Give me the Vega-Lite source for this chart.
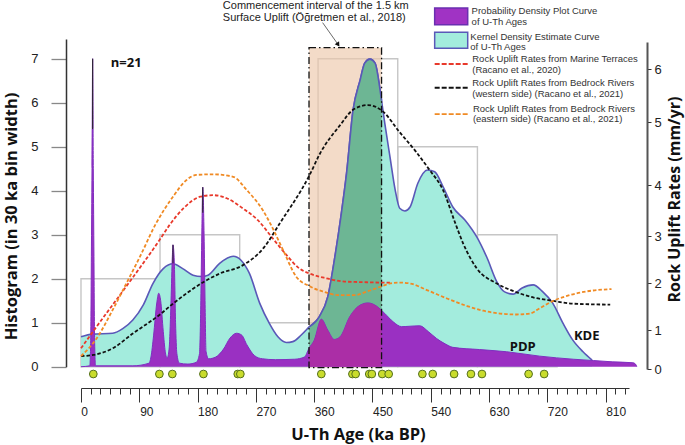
{
  "$schema": "https://vega.github.io/schema/vega-lite/v6.json",
  "width": 581,
  "height": 330,
  "autosize": "none",
  "padding": {"left": 66, "top": 39, "right": 38, "bottom": 76},
  "background": "white",
  "config": {"view": {"stroke": null}, "text": {"font": "Liberation Sans"}},
  "datasets": {
    "hist": [
      {"start": 0, "end": 122, "count": 2},
      {"start": 122, "end": 245, "count": 3},
      {"start": 245, "end": 366, "count": 1},
      {"start": 366, "end": 489, "count": 7},
      {"start": 489, "end": 612, "count": 5},
      {"start": 612, "end": 735, "count": 3}
    ],
    "interval": [{"start": 352, "end": 464, "top": 7.25, "bottom": -0.02}],
    "kde": [
      {"age": 0, "h": 0.68}, {"age": 18, "h": 0.74}, {"age": 49, "h": 0.76}, {"age": 65, "h": 0.87},
      {"age": 80, "h": 1.06}, {"age": 96, "h": 1.4}, {"age": 111, "h": 1.89}, {"age": 127, "h": 2.23},
      {"age": 142, "h": 2.34}, {"age": 157, "h": 2.23}, {"age": 173, "h": 2.08}, {"age": 186, "h": 2.05},
      {"age": 196, "h": 2.08}, {"age": 214, "h": 2.35}, {"age": 235, "h": 2.51}, {"age": 247, "h": 2.42},
      {"age": 260, "h": 2.12}, {"age": 276, "h": 1.44}, {"age": 291, "h": 0.98}, {"age": 304, "h": 0.68},
      {"age": 317, "h": 0.55}, {"age": 327, "h": 0.57}, {"age": 340, "h": 0.72}, {"age": 352, "h": 0.9},
      {"age": 368, "h": 1.14}, {"age": 381, "h": 1.59}, {"age": 392, "h": 2.5}, {"age": 402, "h": 3.49},
      {"age": 410, "h": 4.4}, {"age": 420, "h": 5.83}, {"age": 431, "h": 6.52}, {"age": 438, "h": 6.9},
      {"age": 446, "h": 6.99}, {"age": 454, "h": 6.9}, {"age": 461, "h": 6.36}, {"age": 464, "h": 6.05},
      {"age": 469, "h": 5.53}, {"age": 477, "h": 4.77}, {"age": 485, "h": 4.02}, {"age": 492, "h": 3.6},
      {"age": 500, "h": 3.54}, {"age": 508, "h": 3.63}, {"age": 520, "h": 4.17}, {"age": 535, "h": 4.47},
      {"age": 546, "h": 4.43}, {"age": 559, "h": 4.09}, {"age": 574, "h": 3.63}, {"age": 593, "h": 3.33},
      {"age": 611, "h": 2.95}, {"age": 627, "h": 2.47}, {"age": 642, "h": 1.93}, {"age": 654, "h": 1.7},
      {"age": 667, "h": 1.65}, {"age": 681, "h": 1.79}, {"age": 698, "h": 1.86}, {"age": 713, "h": 1.7},
      {"age": 728, "h": 1.45}, {"age": 744, "h": 0.99}, {"age": 759, "h": 0.61}, {"age": 775, "h": 0.34},
      {"age": 789, "h": 0.15}
    ],
    "pdp": [
      {"age": 0, "h": 0}, {"age": 13.5, "h": 0.02}, {"age": 15, "h": 0.6}, {"age": 16, "h": 2.5},
      {"age": 17, "h": 4.5}, {"age": 18, "h": 7}, {"age": 19, "h": 4.5}, {"age": 20, "h": 2.5},
      {"age": 21, "h": 0.6}, {"age": 22.5, "h": 0.02}, {"age": 80, "h": 0.02}, {"age": 105, "h": 0.08},
      {"age": 108, "h": 0.22}, {"age": 112, "h": 0.7}, {"age": 117, "h": 1.45}, {"age": 120, "h": 1.67},
      {"age": 123, "h": 1.5}, {"age": 127, "h": 0.8}, {"age": 130, "h": 0.35}, {"age": 133, "h": 0.2},
      {"age": 136, "h": 0.4}, {"age": 139, "h": 1.5}, {"age": 141, "h": 2.5}, {"age": 142, "h": 2.77},
      {"age": 144, "h": 2.4}, {"age": 146, "h": 1}, {"age": 148, "h": 0.3}, {"age": 152, "h": 0.08},
      {"age": 165, "h": 0.06}, {"age": 178, "h": 0.1}, {"age": 183, "h": 0.3}, {"age": 185, "h": 1.5},
      {"age": 186.5, "h": 3}, {"age": 188, "h": 4.08}, {"age": 190, "h": 3}, {"age": 191.5, "h": 1.5},
      {"age": 193, "h": 0.35}, {"age": 197, "h": 0.18}, {"age": 208, "h": 0.22}, {"age": 220, "h": 0.4},
      {"age": 230, "h": 0.65}, {"age": 240, "h": 0.76}, {"age": 248, "h": 0.72}, {"age": 256, "h": 0.5},
      {"age": 268, "h": 0.25}, {"age": 280, "h": 0.18}, {"age": 300, "h": 0.16}, {"age": 330, "h": 0.17},
      {"age": 345, "h": 0.22}, {"age": 352, "h": 0.42}, {"age": 360, "h": 0.6}, {"age": 371, "h": 1.08},
      {"age": 381, "h": 0.83}, {"age": 391, "h": 0.62}, {"age": 400, "h": 0.68}, {"age": 415, "h": 1.14},
      {"age": 431, "h": 1.4}, {"age": 443, "h": 1.45}, {"age": 456, "h": 1.38}, {"age": 464, "h": 1.28},
      {"age": 469, "h": 1.21}, {"age": 482, "h": 1.02}, {"age": 495, "h": 0.91}, {"age": 508, "h": 0.92},
      {"age": 523, "h": 0.93}, {"age": 536, "h": 0.8}, {"age": 549, "h": 0.64}, {"age": 562, "h": 0.52},
      {"age": 574, "h": 0.44}, {"age": 615, "h": 0.39}, {"age": 657, "h": 0.34}, {"age": 708, "h": 0.24},
      {"age": 760, "h": 0.17}, {"age": 791, "h": 0.14}, {"age": 821, "h": 0.11}, {"age": 852, "h": 0.09},
      {"age": 856, "h": 0.06}, {"age": 858, "h": 0}
    ],
    "uplift": [
      {"series": "marine", "age": 0, "rate": 0.53}, {"series": "marine", "age": 24, "rate": 1.07},
      {"series": "marine", "age": 70, "rate": 1.93}, {"series": "marine", "age": 121, "rate": 2.91},
      {"series": "marine", "age": 137, "rate": 3.22}, {"series": "marine", "age": 158, "rate": 3.54},
      {"series": "marine", "age": 184, "rate": 3.77}, {"series": "marine", "age": 204, "rate": 3.8},
      {"series": "marine", "age": 225, "rate": 3.74}, {"series": "marine", "age": 250, "rate": 3.54},
      {"series": "marine", "age": 273, "rate": 3.31}, {"series": "marine", "age": 296, "rate": 2.95},
      {"series": "marine", "age": 317, "rate": 2.6},
      {"series": "marine", "age": 337, "rate": 2.31}, {"series": "marine", "age": 353, "rate": 2.2},
      {"series": "marine", "age": 379, "rate": 2.1}, {"series": "marine", "age": 407, "rate": 2.03},
      {"series": "marine", "age": 431, "rate": 2.02}, {"series": "marine", "age": 462, "rate": 2.01},
      {"series": "marine", "age": 477, "rate": 2.01},
      {"series": "west", "age": 0, "rate": 0.33}, {"series": "west", "age": 19, "rate": 0.36},
      {"series": "west", "age": 49, "rate": 0.53}, {"series": "west", "age": 80, "rate": 0.91},
      {"series": "west", "age": 121, "rate": 1.32}, {"series": "west", "age": 142, "rate": 1.56},
      {"series": "west", "age": 188, "rate": 2.01}, {"series": "west", "age": 214, "rate": 2.2},
      {"series": "west", "age": 250, "rate": 2.38}, {"series": "west", "age": 281, "rate": 2.73},
      {"series": "west", "age": 307, "rate": 3.25}, {"series": "west", "age": 353, "rate": 4.16},
      {"series": "west", "age": 369, "rate": 4.5}, {"series": "west", "age": 400, "rate": 4.95},
      {"series": "west", "age": 420, "rate": 5.23}, {"series": "west", "age": 443, "rate": 5.32},
      {"series": "west", "age": 466, "rate": 5.2}, {"series": "west", "age": 491, "rate": 4.85},
      {"series": "west", "age": 517, "rate": 4.53}, {"series": "west", "age": 538, "rate": 4.24},
      {"series": "west", "age": 559, "rate": 3.9}, {"series": "west", "age": 577, "rate": 3.28},
      {"series": "west", "age": 590, "rate": 2.84}, {"series": "west", "age": 611, "rate": 2.31},
      {"series": "west", "age": 642, "rate": 1.99}, {"series": "west", "age": 673, "rate": 1.8},
      {"series": "west", "age": 699, "rate": 1.69}, {"series": "west", "age": 729, "rate": 1.62},
      {"series": "west", "age": 760, "rate": 1.56}, {"series": "west", "age": 817, "rate": 1.54},
      {"series": "east", "age": 0, "rate": 0.33}, {"series": "east", "age": 24, "rate": 0.78},
      {"series": "east", "age": 49, "rate": 1.43}, {"series": "east", "age": 70, "rate": 1.99},
      {"series": "east", "age": 91, "rate": 2.56}, {"series": "east", "age": 116, "rate": 3.25},
      {"series": "east", "age": 142, "rate": 3.77}, {"series": "east", "age": 163, "rate": 4.08},
      {"series": "east", "age": 178, "rate": 4.16}, {"series": "east", "age": 204, "rate": 4.17},
      {"series": "east", "age": 235, "rate": 4.13}, {"series": "east", "age": 256, "rate": 3.9},
      {"series": "east", "age": 281, "rate": 3.5}, {"series": "east", "age": 294, "rate": 3.2},
      {"series": "east", "age": 312, "rate": 2.7}, {"series": "east", "age": 332, "rate": 2.14},
      {"series": "east", "age": 353, "rate": 1.93}, {"series": "east", "age": 373, "rate": 1.82},
      {"series": "east", "age": 400, "rate": 1.74}, {"series": "east", "age": 421, "rate": 1.74},
      {"series": "east", "age": 446, "rate": 1.84}, {"series": "east", "age": 464, "rate": 1.93},
      {"series": "east", "age": 477, "rate": 1.99}, {"series": "east", "age": 490, "rate": 2.01},
      {"series": "east", "age": 508, "rate": 1.99}, {"series": "east", "age": 534, "rate": 1.85},
      {"series": "east", "age": 565, "rate": 1.67}, {"series": "east", "age": 596, "rate": 1.51},
      {"series": "east", "age": 621, "rate": 1.41}, {"series": "east", "age": 647, "rate": 1.35},
      {"series": "east", "age": 673, "rate": 1.33}, {"series": "east", "age": 693, "rate": 1.35},
      {"series": "east", "age": 708, "rate": 1.46}, {"series": "east", "age": 729, "rate": 1.62},
      {"series": "east", "age": 749, "rate": 1.72}, {"series": "east", "age": 780, "rate": 1.82},
      {"series": "east", "age": 819, "rate": 1.87}
    ],
    "ages": [
      {"age": 19}, {"age": 121}, {"age": 141}, {"age": 189}, {"age": 242}, {"age": 246}, {"age": 371},
      {"age": 419}, {"age": 424}, {"age": 445}, {"age": 449}, {"age": 465}, {"age": 475}, {"age": 527},
      {"age": 543}, {"age": 576}, {"age": 602}, {"age": 619}, {"age": 691}, {"age": 715}
    ],
    "tips": [
      {"age": 18, "top": 7, "low": 5.4},
      {"age": 142, "top": 2.77, "low": 2.35},
      {"age": 188, "top": 4.08, "low": 3.5}
    ],
    "swatches": [
      {"x": 546, "x2": 597, "y": 8.15, "y2": 7.77, "kind": "pdp"},
      {"x": 546, "x2": 597, "y": 7.6, "y2": 7.24, "kind": "kde"}
    ],
    "legendDashes": [
      {"series": "marine", "x": 546, "x2": 597, "y": 6.88},
      {"series": "west", "x": 546, "x2": 597, "y": 6.34},
      {"series": "east", "x": 546, "x2": 597, "y": 5.74}
    ],
    "legendText": [
      {"x": 603, "y": 8.08, "label": "Probability Density Plot Curve"},
      {"x": 603, "y": 7.84, "label": "of U-Th Ages"},
      {"x": 601, "y": 7.5, "label": "Kernel Density Estimate Curve"},
      {"x": 601, "y": 7.26, "label": "of U-Th Ages"},
      {"x": 604, "y": 6.99, "label": "Rock Uplift Rates from Marine Terraces"},
      {"x": 604, "y": 6.74, "label": "(Racano et al., 2020)"},
      {"x": 604, "y": 6.45, "label": "Rock Uplift Rates from Bedrock Rivers"},
      {"x": 604, "y": 6.2, "label": "(western side) (Racano et al., 2021)"},
      {"x": 605, "y": 5.86, "label": "Rock Uplift Rates from Bedrock Rivers"},
      {"x": 605, "y": 5.62, "label": "(eastern side) (Racano et al., 2021)"}
    ],
    "noteText": [
      {"x": 219, "y": 8.19, "label": "Commencement interval of the 1.5 km"},
      {"x": 219, "y": 7.92, "label": "Surface Uplift (Öğretmen et al., 2018)"}
    ],
    "boldText": [
      {"x": 46, "y": 6.9, "label": "n=21"},
      {"x": 662, "y": 0.45, "label": "PDP"},
      {"x": 761, "y": 0.7, "label": "KDE"}
    ],
    "arrow": [{"x": 373, "y": 7.82, "x2": 397, "y2": 7.32}]
  },
  "layer": [
    {
      "data": {"name": "hist"},
      "mark": {"type": "rect", "fill": "transparent", "stroke": "#c6c6c6", "strokeWidth": 1.4},
      "encoding": {
        "x": {
          "field": "start", "type": "quantitative", "title": "U-Th Age (ka BP)",
          "scale": {"domain": [0, 846], "range": [15, 563], "nice": false},
          "axis": {
            "offset": 19, "values": [0,15,30,45,60,75,90,105,120,135,150,165,180,195,210,225,240,255,270,285,300,315,330,345,360,375,390,405,420,435,450,465,480,495,510,525,540,555,570,585,600,615,630,645,660,675,690,705,720,735,750,765,780,795,810,825,840],
            "labelExpr": "datum.value % 90 === 0 ? datum.label : ''",
            "labelOverlap": false, "labelFlush": false, "labelAngle": 0, "labelFont": "Liberation Sans", "labelFontSize": 12, "labelColor": "#222", "labelPadding": 4,
            "labelOffset": {"condition": [{"test": "datum.value === 0", "value": 3}, {"test": "datum.value === 90", "value": 7}], "value": 10},
            "domainColor": "#333", "domainWidth": 1.2, "tickColor": "#333", "grid": false,
            "tickSize": {"condition": {"test": "datum.value % 90 === 0", "value": 14}, "value": 6},
            "titleFont": "Open Sans", "titleFontWeight": "bold", "titleFontSize": 16.5, "titleColor": "#111", "titleX": 292, "titleY": 38, "titleBaseline": "top"
          }
        },
        "x2": {"field": "end"},
        "y": {
          "field": "count", "type": "quantitative", "title": "Histogram (in 30 ka bin width)",
          "scale": {"domain": [0, 7.448], "range": [327.7, 0], "nice": false},
          "axis": {
            "values": [0,1,2,3,4,5,6,7], "tickSize": 15, "tickColor": "#888", "tickWidth": 1.3, "domainColor": "#333", "domainWidth": 1.5, "grid": false,
            "labelFont": "Liberation Sans", "labelFontSize": 13, "labelColor": "#222", "labelPadding": 13,
            "titleFont": "Open Sans", "titleFontWeight": "bold", "titleFontSize": 16.5, "titleColor": "#111", "titleX": -47, "titleY": 177
          }
        },
        "y2": {"datum": 0}
      }
    },
    {
      "data": {"name": "interval"},
      "mark": {"type": "rect", "fill": "#ecc8aa", "opacity": 0.65},
      "encoding": {
        "x": {"field": "start", "type": "quantitative", "axis": null},
        "x2": {"field": "end"},
        "y": {"field": "top", "type": "quantitative", "scale": {"domain": [0, 7.448], "range": [327.7, 0], "nice": false}, "axis": null},
        "y2": {"field": "bottom"}
      }
    },
    {
      "data": {"name": "kde"},
      "mark": {"type": "area", "interpolate": "monotone", "color": "#a3ecdd", "opacity": 1, "line": {"color": "#5a58b8", "strokeWidth": 1.6, "opacity": 1}},
      "encoding": {
        "x": {"field": "age", "type": "quantitative", "axis": null},
        "y": {"field": "h", "type": "quantitative", "scale": {"domain": [0, 7.448], "range": [327.7, 0], "nice": false}, "axis": null}
      }
    },
    {
      "data": {"name": "kde"},
      "transform": [{"filter": "datum.age >= 352 && datum.age <= 464"}],
      "mark": {"type": "area", "interpolate": "monotone", "color": "#6db694", "opacity": 1, "line": {"color": "#5a58b8", "strokeWidth": 1.6, "opacity": 1}},
      "encoding": {
        "x": {"field": "age", "type": "quantitative", "axis": null},
        "y": {"field": "h", "type": "quantitative", "scale": {"domain": [0, 7.448], "range": [327.7, 0], "nice": false}, "axis": null}
      }
    },
    {
      "data": {"name": "pdp"},
      "mark": {"type": "area", "interpolate": "monotone", "color": "#9a30c2", "opacity": 1, "line": {"color": "#7f2fc0", "strokeWidth": 1, "opacity": 1}},
      "encoding": {
        "x": {"field": "age", "type": "quantitative", "axis": null},
        "y": {"field": "h", "type": "quantitative", "scale": {"domain": [0, 7.448], "range": [327.7, 0], "nice": false}, "axis": null}
      }
    },
    {
      "data": {"name": "pdp"},
      "transform": [{"filter": "datum.age >= 352 && datum.age <= 464"}],
      "mark": {"type": "area", "interpolate": "monotone", "color": "#ab2ea6", "opacity": 1},
      "encoding": {
        "x": {"field": "age", "type": "quantitative", "axis": null},
        "y": {"field": "h", "type": "quantitative", "scale": {"domain": [0, 7.448], "range": [327.7, 0], "nice": false}, "axis": null}
      }
    },
    {
      "data": {"name": "tips"},
      "mark": {"type": "rule", "color": "#222", "strokeWidth": 1},
      "encoding": {
        "x": {"field": "age", "type": "quantitative", "axis": null},
        "y": {"field": "top", "type": "quantitative", "scale": {"domain": [0, 7.448], "range": [327.7, 0], "nice": false}, "axis": null},
        "y2": {"field": "low"}
      }
    },
    {
      "data": {"name": "interval"},
      "mark": {"type": "rect", "fill": "transparent", "stroke": "#111", "strokeWidth": 1.3, "strokeDash": [7, 3, 1.5, 3]},
      "encoding": {
        "x": {"field": "start", "type": "quantitative", "axis": null},
        "x2": {"field": "end"},
        "y": {"field": "top", "type": "quantitative", "scale": {"domain": [0, 7.448], "range": [327.7, 0], "nice": false}, "axis": null},
        "y2": {"field": "bottom"}
      }
    },
    {
      "data": {"name": "uplift"},
      "mark": {"type": "line", "interpolate": "monotone", "strokeWidth": 1.8, "strokeDash": [3.5, 2]},
      "encoding": {
        "x": {"field": "age", "type": "quantitative", "axis": null},
        "y": {
          "field": "rate", "type": "quantitative", "title": "Rock Uplift Rates (mm/yr)",
          "scale": {"domain": [0, 1, 2, 3, 4, 5, 6, 6.5], "range": [330, 291, 244, 197, 146, 83, 30, 3], "nice": false},
          "axis": {
            "orient": "right", "values": [0,1,2,3,4,5,6], "tickSize": 4, "tickColor": "#333", "domainColor": "#555", "domainWidth": 2, "grid": false,
            "labelFont": "Liberation Sans", "labelFontSize": 13, "labelColor": "#222", "labelPadding": 3,
            "titleFont": "Open Sans", "titleFontWeight": "bold", "titleFontSize": 16, "titleColor": "#111", "titleAngle": 270, "titleX": 35, "titleY": 160
          }
        },
        "color": {"field": "series", "type": "nominal", "legend": null, "scale": {"domain": ["marine", "west", "east"], "range": ["#e8392b", "#111111", "#f08a24"]}}
      }
    },
    {
      "data": {"name": "ages"},
      "mark": {"type": "point", "filled": true, "size": 60, "fill": "#c9dc2c", "stroke": "#55701e", "strokeWidth": 1, "opacity": 1},
      "encoding": {
        "x": {"field": "age", "type": "quantitative", "axis": null},
        "y": {"datum": -0.166, "scale": {"domain": [0, 7.448], "range": [327.7, 0], "nice": false}, "axis": null}
      }
    },
    {
      "data": {"name": "swatches"},
      "mark": {"type": "rect", "strokeWidth": 1.5},
      "encoding": {
        "x": {"field": "x", "type": "quantitative", "axis": null},
        "x2": {"field": "x2"},
        "y": {"field": "y", "type": "quantitative", "scale": {"domain": [0, 7.448], "range": [327.7, 0], "nice": false}, "axis": null},
        "y2": {"field": "y2"},
        "fill": {"field": "kind", "type": "nominal", "legend": null, "scale": {"domain": ["pdp", "kde"], "range": ["#a033c4", "#a3ecdd"]}},
        "stroke": {"field": "kind", "type": "nominal", "legend": null, "scale": {"domain": ["pdp", "kde"], "range": ["#6a2fb0", "#5a58b8"]}}
      }
    },
    {
      "data": {"name": "legendDashes"},
      "mark": {"type": "rule", "strokeWidth": 1.8, "strokeDash": [5, 2]},
      "encoding": {
        "x": {"field": "x", "type": "quantitative", "axis": null},
        "x2": {"field": "x2"},
        "y": {"field": "y", "type": "quantitative", "scale": {"domain": [0, 7.448], "range": [327.7, 0], "nice": false}, "axis": null},
        "color": {"field": "series", "type": "nominal", "legend": null, "scale": {"domain": ["marine", "west", "east"], "range": ["#e8392b", "#111111", "#f08a24"]}}
      }
    },
    {
      "data": {"name": "legendText"},
      "mark": {"type": "text", "align": "left", "baseline": "middle", "fontSize": 9.5, "color": "#333"},
      "encoding": {
        "x": {"field": "x", "type": "quantitative", "axis": null},
        "y": {"field": "y", "type": "quantitative", "scale": {"domain": [0, 7.448], "range": [327.7, 0], "nice": false}, "axis": null},
        "text": {"field": "label"}
      }
    },
    {
      "data": {"name": "noteText"},
      "mark": {"type": "text", "align": "left", "baseline": "middle", "fontSize": 11, "color": "#222"},
      "encoding": {
        "x": {"field": "x", "type": "quantitative", "axis": null},
        "y": {"field": "y", "type": "quantitative", "scale": {"domain": [0, 7.448], "range": [327.7, 0], "nice": false}, "axis": null},
        "text": {"field": "label"}
      }
    },
    {
      "data": {"name": "boldText"},
      "mark": {"type": "text", "align": "left", "baseline": "middle", "font": "Open Sans", "fontWeight": "bold", "fontSize": 13, "color": "#111"},
      "encoding": {
        "x": {"field": "x", "type": "quantitative", "axis": null},
        "y": {"field": "y", "type": "quantitative", "scale": {"domain": [0, 7.448], "range": [327.7, 0], "nice": false}, "axis": null},
        "text": {"field": "label"}
      }
    },
    {
      "data": {"name": "arrow"},
      "mark": {"type": "rule", "color": "#444", "strokeWidth": 0.8},
      "encoding": {
        "x": {"field": "x", "type": "quantitative", "axis": null},
        "x2": {"field": "x2"},
        "y": {"field": "y", "type": "quantitative", "scale": {"domain": [0, 7.448], "range": [327.7, 0], "nice": false}, "axis": null},
        "y2": {"field": "y2"}
      }
    },
    {
      "data": {"name": "arrow"},
      "mark": {"type": "point", "shape": "triangle-up", "filled": true, "size": 28, "color": "#111", "angle": 146, "opacity": 1},
      "encoding": {
        "x": {"field": "x2", "type": "quantitative", "axis": null},
        "y": {"field": "y2", "type": "quantitative", "scale": {"domain": [0, 7.448], "range": [327.7, 0], "nice": false}, "axis": null}
      }
    }
  ],
  "resolve": {"scale": {"y": "independent", "color": "independent", "fill": "independent", "stroke": "independent"}, "axis": {"x": "independent", "y": "independent"}}
}
